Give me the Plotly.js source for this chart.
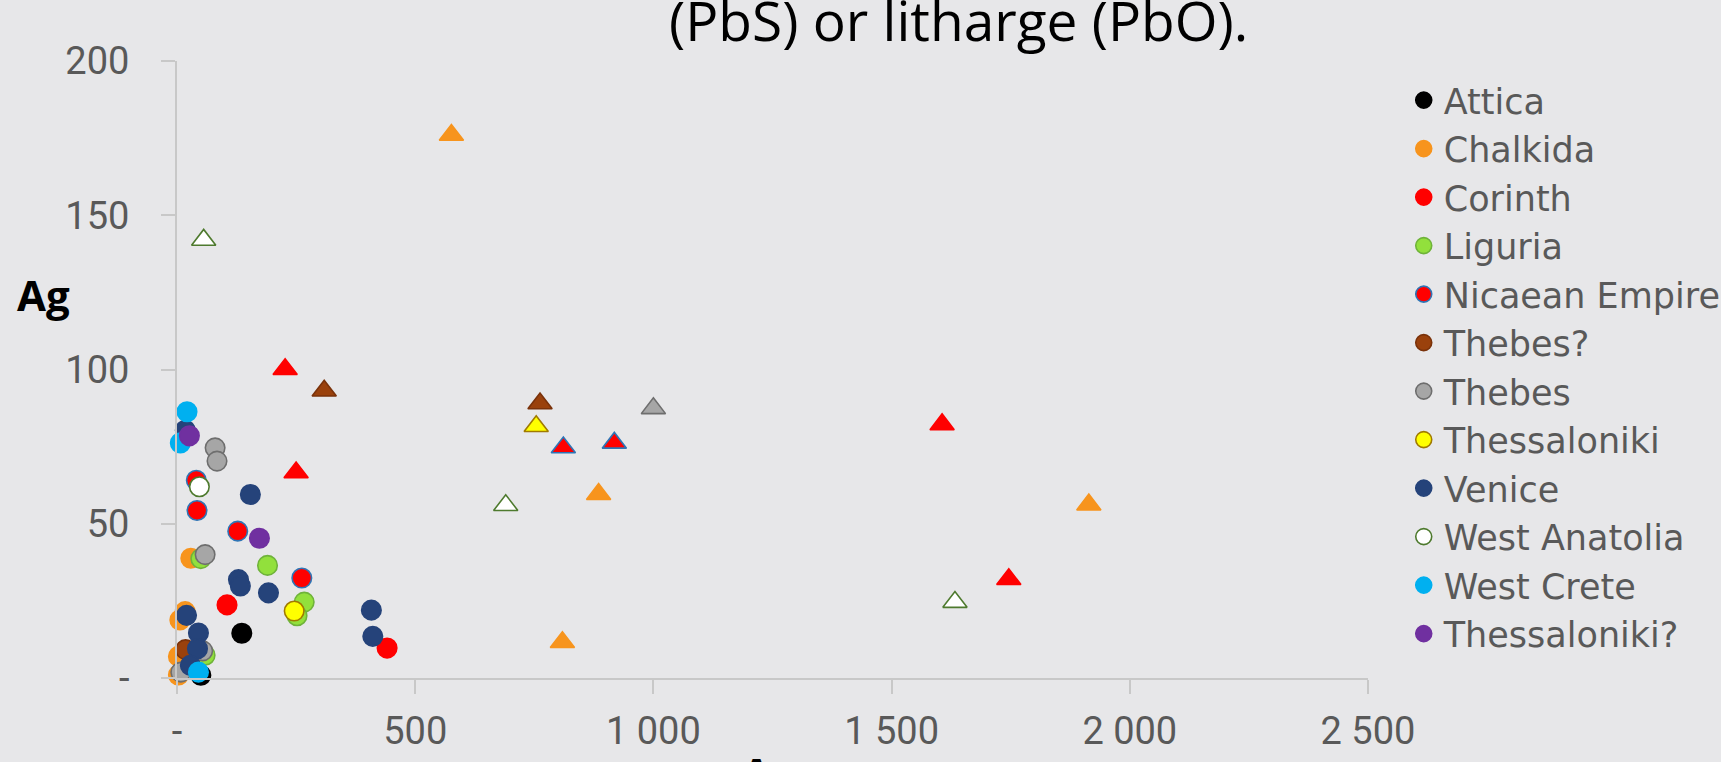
<!DOCTYPE html>
<html>
<head>
<meta charset="utf-8">
<script src="https://cdn.plot.ly/plotly-3.0.1.min.js"></script>
<style>
  html, body { margin: 0; padding: 0; background: #E7E7E9; }
  #chart { width: 1721px; height: 762px; }
</style>
</head>
<body>
<div id="chart"></div>
<script>
// ---- Data ----
const seriesNames = ["Attica", "Chalkida", "Corinth", "Liguria", "Nicaean Empire", "Thebes?",
  "Thebes", "Thessaloniki", "Venice", "West Anatolia", "West Crete", "Thessaloniki?"];

// circles (x = A-axis value, y = Ag)
const atticaX = [136, 50];
const atticaY = [14.5, 0.9];
const chalkidaX = [17, 6, 3, 3, 29];
const chalkidaY = [21.5, 18.8, 7.0, 1.0, 38.8];
const corinthX = [105, 441];
const corinthY = [23.7, 9.7];
const liguriaX = [50, 190, 267, 252, 59];
const liguriaY = [38.7, 36.5, 24.6, 20.2, 7.4];
const nicaeanX = [40.5, 42, 127.5, 262];
const nicaeanY = [64.1, 54.3, 47.6, 32.4];
const thebesQX = [18];
const thebesQY = [9.2];
const thebesX = [80, 84, 59, 54, 8];
const thebesY = [74.6, 70.3, 40.0, 8.8, 1.9];
const thessX = [246];
const thessY = [21.7];
const veniceX = [17.4, 154, 129, 133, 192, 408, 411, 20, 45, 43, 28];
const veniceY = [80.3, 59.5, 31.9, 29.8, 27.6, 22.0, 13.5, 20.3, 14.6, 9.5, 4.1];
const westAnatoliaX = [47];
const westAnatoliaY = [62];
const westCreteX = [21, 7, 45];
const westCreteY = [86.3, 76.2, 1.9];
const thessQX = [26, 173];
const thessQY = [78.5, 45.3];

// triangles (second sample type)
const chalkidaTriX = [576, 885, 809, 1914];
const chalkidaTriY = [176, 59.6, 11.6, 56.2];
const corinthTriX = [227, 250, 1606, 1746];
const corinthTriY = [100.1, 66.6, 82.2, 32.0];
const nicaeanTriX = [811, 918];
const nicaeanTriY = [74.7, 76.2];
const thebesQTriX = [309, 762];
const thebesQTriY = [93.1, 89.0];
const thebesTriX = [1000];
const thebesTriY = [87.4];
const thessTriX = [754];
const thessTriY = [81.6];
const westAnatoliaTriX = [56, 690, 1633];
const westAnatoliaTriY = [142, 56.0, 24.6];

// axis ticks
const xTickVals = [0, 500, 1000, 1500, 2000, 2500];
const xTickText = ["-", "500", "1 000", "1 500", "2 000", "2 500"];
const yTickVals = [0, 50, 100, 150, 200];
const yTickText = ["-", "50", "100", "150", "200"];

const titleText = "(PbS) or litharge (PbO).";
const yTitle = "Ag";
const xTitle = "As";

// ---- Styles ----
const styles = [
  {fill: "#000000", line: "#000000"},
  {fill: "#F7941D", line: "#F7941D"},
  {fill: "#FF0000", line: "#FF0000"},
  {fill: "#92E03C", line: "#6FB33A"},
  {fill: "#FF0000", line: "#2E75B6"},
  {fill: "#9A410C", line: "#7A320A"},
  {fill: "#A6A6A6", line: "#6E6E6E"},
  {fill: "#FFFF00", line: "#A07A00"},
  {fill: "#25437A", line: "#25437A"},
  {fill: "#FFFFFF", line: "#4E7A2E"},
  {fill: "#00B0F0", line: "#00B0F0"},
  {fill: "#7030A0", line: "#7030A0"}
];

const circleData = [
  [atticaX, atticaY], [chalkidaX, chalkidaY], [corinthX, corinthY], [liguriaX, liguriaY],
  [nicaeanX, nicaeanY], [thebesQX, thebesQY], [thebesX, thebesY], [thessX, thessY],
  [veniceX, veniceY], [westAnatoliaX, westAnatoliaY], [westCreteX, westCreteY], [thessQX, thessQY]
];
const triData = [
  null, [chalkidaTriX, chalkidaTriY], [corinthTriX, corinthTriY], null,
  [nicaeanTriX, nicaeanTriY], [thebesQTriX, thebesQTriY], [thebesTriX, thebesTriY], [thessTriX, thessTriY],
  null, [westAnatoliaTriX, westAnatoliaTriY], null, null
];

const traces = [];
seriesNames.forEach((name, i) => {
  const st = styles[i];
  traces.push({
    type: "scatter", mode: "markers", name: name, legendgroup: name,
    x: circleData[i][0], y: circleData[i][1],
    marker: {symbol: "circle", size: 19.5, color: st.fill, line: {color: st.line, width: 1.6}},
    cliponaxis: false, hoverinfo: "x+y+name"
  });
  if (triData[i]) {
    traces.push({
      type: "scatter", mode: "markers", name: name, legendgroup: name, showlegend: false,
      x: triData[i][0], y: triData[i][1],
      marker: {symbol: "triangle-up", size: 21, color: st.fill, line: {color: st.line, width: 1.6}},
      cliponaxis: false, hoverinfo: "x+y+name"
    });
  }
});

const tickFont = {family: "Roboto, 'DejaVu Sans', sans-serif", size: 38, color: "#595959"};

const layout = {
  width: 1721, height: 762,
  paper_bgcolor: "#E7E7E9", plot_bgcolor: "#E7E7E9",
  margin: {l: 177, r: 353, t: 61, b: 84, pad: 0, autoexpand: false},
  showlegend: true,
  title: {
    text: titleText,
    font: {family: "'Open Sans', sans-serif", size: 55, color: "#000000"},
    xref: "container", x: 0.557, xanchor: "center",
    yref: "container", y: 0.946, yanchor: "bottom", pad: {t: 0, b: 0, l: 0, r: 0}
  },
  xaxis: {
    range: [0, 2500], autorange: false,
    tickvals: xTickVals, ticktext: xTickText,
    showgrid: false, zeroline: false,
    showline: true, linecolor: "#C8C8C8", linewidth: 2,
    ticks: "outside", ticklen: 14, tickwidth: 2, tickcolor: "#C8C8C8",
    tickfont: tickFont, ticklabelstandoff: 4, automargin: false
  },
  yaxis: {
    range: [0, 200], autorange: false,
    tickvals: yTickVals, ticktext: yTickText,
    showgrid: false, zeroline: false,
    showline: true, linecolor: "#C8C8C8", linewidth: 2,
    ticks: "outside", ticklen: 14, tickwidth: 2, tickcolor: "#C8C8C8",
    tickfont: tickFont, ticklabelstandoff: 24, automargin: false
  },
  legend: {
    x: 1.03, xanchor: "left", xref: "paper",
    y: 0.984, yanchor: "top", yref: "paper",
    bgcolor: "rgba(0,0,0,0)", borderwidth: 0,
    font: {family: "'DejaVu Sans', sans-serif", size: 35, color: "#595959"},
    tracegroupgap: 0, traceorder: "normal", itemsizing: "trace", maxheight: 1
  },
  annotations: [
    {
      text: "<b>" + yTitle + "</b>", showarrow: false,
      xref: "paper", x: -0.112, xanchor: "center",
      yref: "paper", y: 0.622, yanchor: "middle",
      font: {family: "'Open Sans', sans-serif", size: 42, color: "#000000"}
    },
    {
      text: "<b>" + xTitle + "</b>", showarrow: false,
      xref: "paper", x: 0.495, xanchor: "center",
      yref: "paper", y: -0.103, yanchor: "top",
      font: {family: "'Open Sans', sans-serif", size: 42, color: "#000000"}
    }
  ]
};

Plotly.newPlot("chart", traces, layout, {displayModeBar: false});
</script>
</body>
</html>
